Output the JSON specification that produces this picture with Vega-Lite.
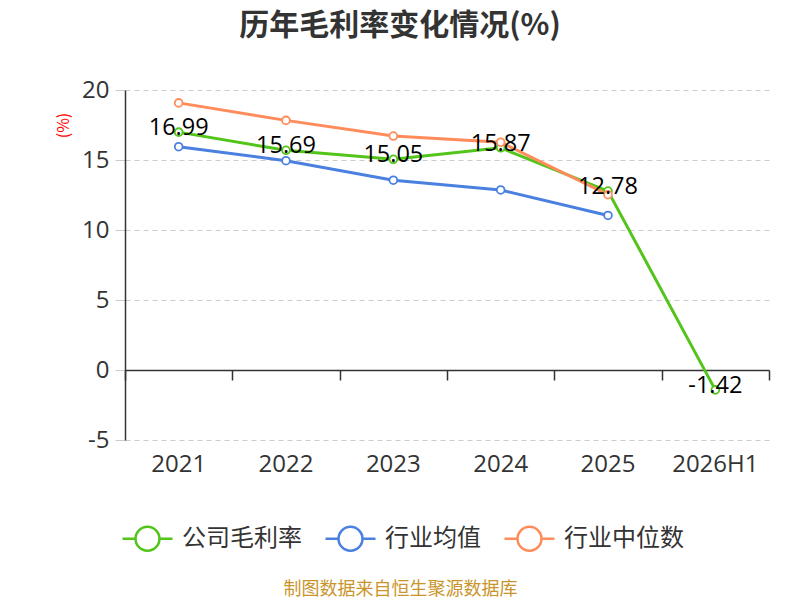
{
  "$schema": "https://vega.github.io/schema/vega-lite/v6.json",
  "width": 644,
  "height": 350,
  "autosize": {"type": "none"},
  "padding": {"left": 125, "top": 90, "right": 31, "bottom": 160},
  "background": "white",
  "title": {"text": "历年毛利率变化情况(%)", "font": "Noto Sans CJK SC", "fontSize": 30, "fontWeight": "bold", "color": "#333333", "anchor": "middle", "frame": "group", "dx": -47, "offset": 37},
  "config": {"view": {"stroke": null}},
  "data": {"values": [
    {"year": "2021", "series": "公司毛利率", "value": 16.99},
    {"year": "2022", "series": "公司毛利率", "value": 15.69},
    {"year": "2023", "series": "公司毛利率", "value": 15.05},
    {"year": "2024", "series": "公司毛利率", "value": 15.87},
    {"year": "2025", "series": "公司毛利率", "value": 12.78},
    {"year": "2026H1", "series": "公司毛利率", "value": -1.42},
    {"year": "2021", "series": "行业均值", "value": 15.95},
    {"year": "2022", "series": "行业均值", "value": 14.95},
    {"year": "2023", "series": "行业均值", "value": 13.56},
    {"year": "2024", "series": "行业均值", "value": 12.86},
    {"year": "2025", "series": "行业均值", "value": 11.04},
    {"year": "2021", "series": "行业中位数", "value": 19.08},
    {"year": "2022", "series": "行业中位数", "value": 17.83},
    {"year": "2023", "series": "行业中位数", "value": 16.71},
    {"year": "2024", "series": "行业中位数", "value": 16.27},
    {"year": "2025", "series": "行业中位数", "value": 12.52}
  ]},
  "encoding": {
    "y": {"field": "value", "type": "quantitative",
      "scale": {"domain": [-5, 20], "nice": false, "zero": false},
      "axis": {"values": [-5, 0, 5, 10, 15, 20], "labelExpr": "replace(datum.label, '−', '-')", "title": "(%)", "titleColor": "#ff0000", "titleFont": "Noto Sans CJK SC", "titleFontSize": 16, "titleFontWeight": "normal", "titleAngle": -90, "titleX": -62, "titleY": 35, "titleAlign": "center", "titleBaseline": "middle",
        "labelFont": "Open Sans", "labelFontSize": 24, "labelColor": "#333333", "labelPadding": 6, "tickSize": 10, "tickColor": "#cccccc", "domainColor": "#333333", "domainWidth": 1.5, "grid": true, "gridColor": "#cccccc", "gridDash": [5, 4], "gridWidth": 1}},
    "color": {"field": "series", "type": "nominal",
      "scale": {"domain": ["公司毛利率", "行业均值", "行业中位数"], "range": ["#52c41a", "#4a80e0", "#ff8c5a"]},
      "legend": {"orient": "none", "legendX": -4, "legendY": 422, "direction": "horizontal", "title": null, "padding": 0,
        "symbolType": "M -1 0 L -0.48 0 M 0.48 0 L 1 0 M -0.48 0 A 0.48 0.48 0 1 1 0.48 0 A 0.48 0.48 0 1 1 -0.48 0",
        "symbolSize": 2500, "symbolStrokeWidth": 2.5, "symbolFillColor": "white", "symbolOpacity": 1,
        "labelFont": "Noto Sans CJK SC", "labelFontSize": 24, "labelColor": "#333333", "labelOffset": 8, "columnPadding": 18,
        "encode": {"symbols": {"update": {"fill": {"value": "white"}, "strokeWidth": {"value": 2.5}}}}}}
  },
  "layer": [
    {
      "mark": {"type": "line", "strokeWidth": 3},
      "encoding": {
        "x": {"field": "year", "type": "nominal", "sort": null,
          "scale": {"type": "band", "domain": ["2021", "2022", "2023", "2024", "2025", "2026H1"], "paddingInner": 0, "paddingOuter": 0},
          "axis": {"orient": "bottom", "domain": false, "ticks": false, "grid": false, "labelAngle": 0, "labelFont": "Open Sans", "labelFontSize": 24, "labelColor": "#333333", "labelPadding": 12,
            "title": "制图数据来自恒生聚源数据库", "titleFont": "Noto Sans CJK SC", "titleFontSize": 18, "titleFontWeight": "normal", "titleColor": "#c9952b", "titleX": 275, "titleY": 149, "titleAlign": "center", "titleBaseline": "middle"}}
      }
    },
    {
      "mark": {"type": "point", "filled": false, "size": 60, "strokeWidth": 1.8, "opacity": 1},
      "encoding": {
        "x": {"field": "year", "type": "nominal", "sort": null,
          "scale": {"type": "band", "domain": ["2021", "2022", "2023", "2024", "2025", "2026H1"], "paddingInner": 0, "paddingOuter": 0},
          "axis": {"orient": "bottom", "offset": -70, "labels": false, "ticks": true, "tickBand": "extent", "tickSize": 10, "tickColor": "#333333", "tickWidth": 1.5, "domain": true, "domainColor": "#333333", "domainWidth": 1.5, "grid": false, "title": null}},
        "fill": {"value": "white"}
      }
    },
    {
      "transform": [{"filter": "datum.series === '公司毛利率'"}],
      "mark": {"type": "text", "font": "Open Sans", "fontSize": 23.5, "dy": -4, "baseline": "middle", "align": "center"},
      "encoding": {
        "x": {"field": "year", "type": "nominal", "sort": null,
          "scale": {"type": "band", "domain": ["2021", "2022", "2023", "2024", "2025", "2026H1"], "paddingInner": 0, "paddingOuter": 0},
          "axis": null},
        "text": {"field": "value", "type": "nominal"},
        "color": {"value": "#000000"}
      }
    }
  ],
  "resolve": {"axis": {"x": "independent"}}
}
